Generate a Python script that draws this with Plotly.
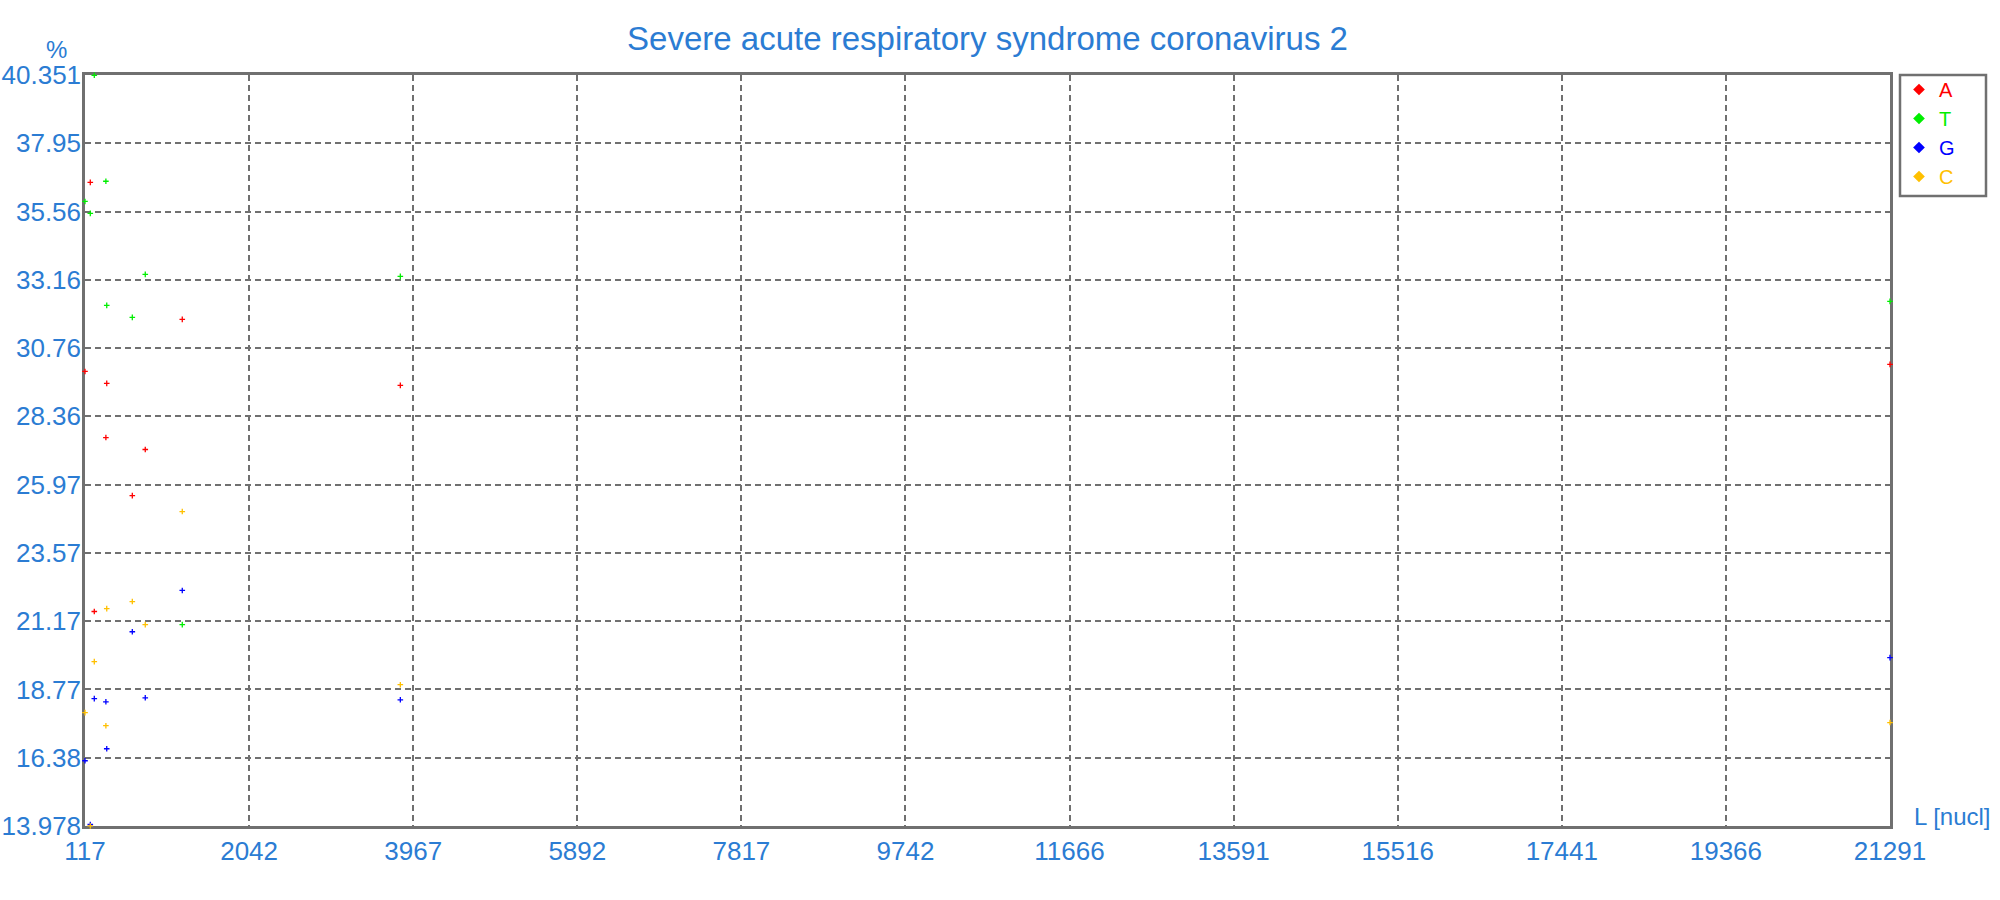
import plotly.graph_objects as go

# ---- data ----
positions = [117, 179, 226, 362, 372, 672, 824, 1258, 3816, 21291]
A_pct = [29.94, 36.58, 21.51, 27.62, 29.52, 25.58, 27.20, 31.77, 29.45, 30.19]
T_pct = [35.91, 35.49, 40.34, 36.62, 32.26, 31.84, 33.35, 21.05, 33.28, 32.40]
G_pct = [16.27, 14.03, 18.45, 18.34, 16.69, 20.80, 18.48, 22.25, 18.41, 19.89]
C_pct = [17.96, 13.98, 19.75, 17.50, 21.61, 21.86, 21.05, 25.02, 18.94, 17.61]

x_ticks = [117, 2042, 3967, 5892, 7817, 9742, 11666, 13591, 15516, 17441, 19366, 21291]
y_tickvals = [13.978, 16.3755, 18.7731, 21.1707, 23.5682, 25.9658, 28.3633,
              30.7609, 33.1584, 35.5560, 37.9535, 40.351]
y_ticktext = ["13.978", "16.38", "18.77", "21.17", "23.57", "25.97", "28.36",
              "30.76", "33.16", "35.56", "37.95", "40.351"]

series = [("A", A_pct, "#ff0000"), ("T", T_pct, "#00ee00"),
          ("G", G_pct, "#0000ff"), ("C", C_pct, "#ffc000")]

TXT = "#2b7cd3"
GRID = "#707070"
FONT = "Liberation Sans, Arial, sans-serif"

# plot-area geometry (px) used to place decorations in paper coords
L, R, T, B = 85, 1890, 75, 826
PW, PH = R - L, B - T


def px(xp):
    return (xp - L) / PW


def py(yp):
    return (B - yp) / PH


fig = go.Figure()
for name, vals, col in series:
    fig.add_trace(go.Scatter(
        x=positions, y=vals, mode="markers", showlegend=False,
        cliponaxis=False,
        marker=dict(symbol="cross-thin", size=4, color=col,
                    line=dict(width=1.3, color=col)),
    ))
for name, vals, col in series:
    fig.add_trace(go.Scatter(
        x=[None], y=[None], mode="markers", showlegend=True,
        name=f'<span style="color:{col}">{name}</span>',
        marker=dict(symbol="diamond", size=9, color=col),
    ))

fig.update_layout(
    width=2000, height=900, autosize=False,
    margin=dict(l=L, r=2000 - R, t=T, b=900 - B, autoexpand=False),
    paper_bgcolor="white", plot_bgcolor="white",
    font=dict(family=FONT, color=TXT),
    title=dict(text="Severe acute respiratory syndrome coronavirus 2",
               x=(L + R) / 2 / 2000, xanchor="center",
               y=1 - 38 / 900, yanchor="middle",
               font=dict(size=33, color=TXT, family=FONT)),
    legend=dict(x=px(1899), xanchor="left", y=py(70), yanchor="top",
                borderwidth=0, bgcolor="rgba(0,0,0,0)",
                font=dict(size=20, family=FONT)),
    shapes=[dict(type="rect", xref="paper", yref="paper",
                 x0=px(1900), x1=px(1986), y0=py(196), y1=py(75),
                 line=dict(color=GRID, width=2.5), fillcolor="rgba(0,0,0,0)")],
    xaxis=dict(range=[117, 21291], tickmode="array", tickvals=x_ticks,
               ticktext=[str(v) for v in x_ticks], automargin=False,
               showgrid=True, gridcolor=GRID, gridwidth=2, griddash="6px,4px",
               showline=True, linecolor=GRID, linewidth=2.5, mirror=True,
               ticks="", zeroline=False, layer="below traces",
               tickfont=dict(size=26, color=TXT, family=FONT)),
    yaxis=dict(range=[13.978, 40.351], tickmode="array", tickvals=y_tickvals,
               ticktext=y_ticktext, automargin=False, ticklabelstandoff=-4,
               showgrid=True, gridcolor=GRID, gridwidth=2, griddash="6px,4px",
               showline=True, linecolor=GRID, linewidth=2.5, mirror=True,
               ticks="", zeroline=False, layer="below traces",
               tickfont=dict(size=26, color=TXT, family=FONT)),
    annotations=[
        dict(text="%", xref="paper", yref="paper",
             x=px(56), y=py(49),
             xanchor="center", yanchor="middle", showarrow=False,
             font=dict(size=24, color=TXT, family=FONT)),
        dict(text="L [nucl]", xref="paper", yref="paper",
             x=px(1993), y=py(816),
             xanchor="right", yanchor="middle", showarrow=False,
             font=dict(size=24, color=TXT, family=FONT)),
    ],
)

fig.write_html("out.html")
